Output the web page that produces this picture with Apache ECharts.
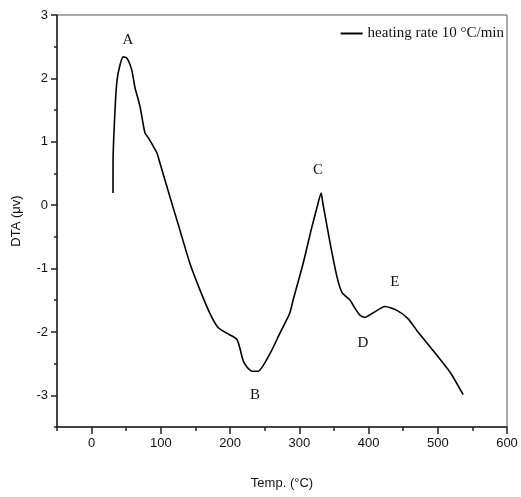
<!DOCTYPE html>
<html>
<head>
<meta charset="utf-8">
<script src="https://cdn.jsdelivr.net/npm/echarts@6/dist/echarts.min.js"></script>
<style>html,body{margin:0;padding:0;background:#fff}#c{width:521px;height:497px}</style>
</head>
<body>
<div id="c"></div>
<script>
var temps = [30.9,31.0,33.8,36.7,41,45.4,51,58,62.7,66,70,77,81.5,88,94.5,98.8,113.3,127.7,142,156.6,171,182.7,195,210,218.8,224,231.8,240.5,257.8,272,286,291,305.5,318,325.7,331.5,334,344.5,354.6,361.8,373.4,380,387.9,395,405,424,441,457,470,493,518,536.7];
var dta = [0.19,0.71,1.5,1.97,2.21,2.34,2.32,2.13,1.85,1.72,1.55,1.14,1.07,0.95,0.82,0.66,0.125,-0.40,-0.92,-1.34,-1.71,-1.93,-2.02,-2.12,-2.45,-2.55,-2.62,-2.62,-2.34,-2.02,-1.71,-1.50,-0.92,-0.35,-0.03,0.19,0.03,-0.60,-1.14,-1.38,-1.50,-1.62,-1.74,-1.77,-1.71,-1.60,-1.66,-1.79,-1.98,-2.29,-2.64,-2.99];
var peakNames = ['A','B','C','D','E'];
var peakX = [52.6,236,327,392,438];
var peakY = [2.6,-3.0,0.55,-2.17,-1.22];
var xMajor = [0,100,200,300,400,500,600];
var xMinor = [-50,50,150,250,350,450,550];
var yMajor = [-3,-2,-1,0,1,2,3];
var yMinor = [-3.5,-2.5,-1.5,-0.5,0.5,1.5,2.5];
var seriesName = 'heating rate 10 \u00B0C/min';

var chart = echarts.init(document.getElementById('c'), null, {renderer:'canvas'});
var sans = 'Liberation Sans, Arial, sans-serif';
var serif = 'Liberation Serif, Times New Roman, serif';
var lineData = temps.map(function(t,i){return [t, dta[i]];});
var marks = peakNames.map(function(n,i){return {name:n, coord:[peakX[i], peakY[i]], value:n};});

chart.setOption({
  animation:false,
  backgroundColor:'#fff',
  grid:{left:57, right:14, top:15, bottom:70, show:true, borderColor:'#555', borderWidth:1, backgroundColor:'transparent'},
  legend:{
    right:12, top:21, itemWidth:22, itemHeight:8, itemGap:3,
    icon:'path://M0,3L22,3L22,5L0,5Z',
    textStyle:{fontFamily:serif, fontSize:15, color:'#111'},
    data:[seriesName]
  },
  xAxis:[{
    type:'value', min:-50, max:600, interval:50, position:'bottom',
    name:'Temp. (\u00B0C)', nameLocation:'middle', nameGap:50,
    nameTextStyle:{fontFamily:sans, fontSize:13, color:'#111'},
    axisLine:{show:true, onZero:false, lineStyle:{color:'#222', width:1.5}},
    axisTick:{show:true, customValues:xMajor, length:7, lineStyle:{color:'#222', width:1.5}},
    axisLabel:{customValues:xMajor, fontFamily:sans, fontSize:13, color:'#111', margin:10},
    splitLine:{show:false}
  },{
    type:'value', min:-50, max:600, interval:50, position:'bottom',
    axisLine:{show:false, onZero:false},
    axisTick:{show:true, customValues:xMinor, length:4, lineStyle:{color:'#222', width:1.5}},
    axisLabel:{show:false},
    splitLine:{show:false}
  }],
  yAxis:[{
    type:'value', min:-3.5, max:3, interval:0.5, position:'left',
    name:'DTA (\u03BCv)', nameLocation:'middle', nameGap:34, nameRotate:90,
    nameTextStyle:{fontFamily:sans, fontSize:13, color:'#111'},
    axisLine:{show:true, onZero:false, lineStyle:{color:'#222', width:1.5}},
    axisTick:{show:true, customValues:yMajor, length:6, lineStyle:{color:'#222', width:1.5}},
    axisLabel:{customValues:yMajor, fontFamily:sans, fontSize:13, color:'#111', margin:9},
    splitLine:{show:false}
  },{
    type:'value', min:-3.5, max:3, interval:0.5, position:'left',
    axisLine:{show:false, onZero:false},
    axisTick:{show:true, customValues:yMinor, length:3, lineStyle:{color:'#222', width:1.5}},
    axisLabel:{show:false},
    splitLine:{show:false}
  }],
  series:[{
    name:seriesName, type:'line', xAxisIndex:0, yAxisIndex:0,
    data:lineData, symbol:'none', smooth:0.2,
    lineStyle:{color:'#000', width:1.6},
    itemStyle:{color:'#000'},
    markPoint:{
      symbol:'circle', symbolSize:0, silent:true,
      label:{show:true, position:'inside', formatter:'{b}', fontFamily:serif, fontSize:15, color:'#111'},
      data:marks
    }
  }]
});
</script>
</body>
</html>
